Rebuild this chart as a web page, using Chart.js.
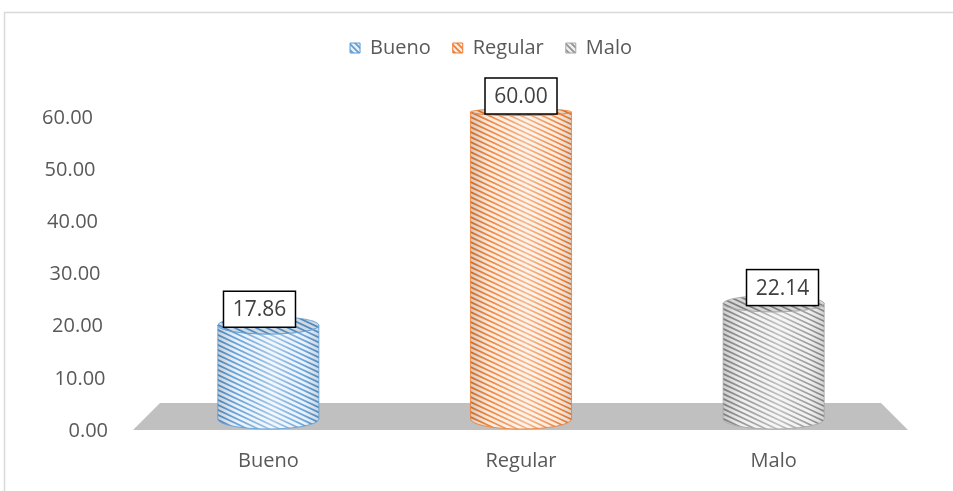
<!DOCTYPE html>
<html>
<head>
<meta charset="utf-8">
<script src="https://cdn.jsdelivr.net/npm/chart.js@4"></script>
<style>
  html, body { margin: 0; padding: 0; background: #fff; }
  canvas { display: block; }
</style>
</head>
<body>
<canvas id="chart" width="953" height="491"></canvas>
<script>
// Chart data
const categories = ['Bueno', 'Regular', 'Malo'];
const values = [17.86, 60.00, 22.14];
const tickValues = [0, 10, 20, 30, 40, 50, 60];

// Series colours (stripe, light tint)
const stripeColors = ['#5b9bd5', '#ed7d31', '#8f8f8f'];
const tintColors = ['#e8f1fb', '#fdeadc', '#efefef'];
const edgeColors = ['#5b9bd5', '#ed7d31', '#a5a5a5'];

const FONT = "'Open Sans', sans-serif";
const textColor = '#595959';

// small hatched square for the legend boxes
function makePattern(i) {
    const c = document.createElement('canvas');
    c.width = 6; c.height = 6;
    const g = c.getContext('2d');
    g.fillStyle = tintColors[i];
    g.fillRect(0, 0, 6, 6);
    g.strokeStyle = stripeColors[i];
    g.lineWidth = 1.6;
    g.beginPath();
    g.moveTo(-1, -1); g.lineTo(7, 7);
    g.moveTo(-4, 2); g.lineTo(4, 10);
    g.moveTo(2, -4); g.lineTo(10, 4);
    g.stroke();
    return g.createPattern(c, 'repeat');
}

function stripes(ctx, left, right, top, bottom, color) {
    const slope = 0.47;
    const gap = 5;
    ctx.strokeStyle = color;
    ctx.lineWidth = 1.7;
    ctx.beginPath();
    const w = right - left;
    for (let y = top - w * slope - gap; y < bottom + gap; y += gap) {
        ctx.moveTo(left - 2, y);
        ctx.lineTo(right + 2, y + (w + 4) * slope);
    }
    ctx.stroke();
}

function bodyPath(ctx, cx, rx, topC, ryT, botC, ryB) {
    ctx.beginPath();
    ctx.moveTo(cx - rx, topC);
    ctx.lineTo(cx - rx, botC);
    ctx.ellipse(cx, botC, rx, ryB, 0, Math.PI, 0, true);
    ctx.lineTo(cx + rx, topC);
    ctx.ellipse(cx, topC, rx, ryT, 0, 0, Math.PI, false);
    ctx.closePath();
}

const cylinderPlugin = {
    id: 'cylinders',
    beforeLayout(chart) {
        // push the plot area down under the legend
        const lg = chart.legend;
        if (lg && !lg._patched) {
            const fit = lg.fit;
            lg.fit = function() {
                fit.call(this);
                this.height = 100;
            };
            lg._patched = true;
        }
    },
    afterLayout(chart) {
        // legend sits a little left of the plot centre
        if (chart.legend) {
            chart.legend.left = 82;
            chart.legend.right = 900;
        }
    },
    beforeDraw(chart) {
        const ctx = chart.ctx;
        ctx.save();
        ctx.fillStyle = '#fff';
        ctx.fillRect(0, 0, chart.width, chart.height);
        // outer chart border
        ctx.strokeStyle = '#d9d9d9';
        ctx.lineWidth = 1.5;
        ctx.beginPath();
        ctx.moveTo(4.5, chart.height);
        ctx.lineTo(4.5, 12.5);
        ctx.lineTo(chart.width, 12.5);
        ctx.stroke();
        ctx.restore();
    },
    beforeDatasetsDraw(chart) {
        const ctx = chart.ctx;
        const a = chart.chartArea;
        const y0 = chart.scales.y.getPixelForValue(0);
        // grey floor
        ctx.save();
        ctx.fillStyle = '#c0c0c0';
        ctx.beginPath();
        ctx.moveTo(a.left - 9, y0 + 1);
        ctx.lineTo(a.left + 18, y0 - 26);
        ctx.lineTo(a.right - 19, y0 - 26);
        ctx.lineTo(a.right + 8, y0 + 1);
        ctx.closePath();
        ctx.fill();
        ctx.restore();
    },
    afterDatasetsDraw(chart) {
        const ctx = chart.ctx;
        const a = chart.chartArea;
        const mid = (a.left + a.right) / 2;
        const meta = chart.getDatasetMeta(0);
        const ryAt = y => 3.5 + (y - a.top) * 0.024;

        meta.data.forEach((bar, i) => {
            const cx = bar.x;
            const rx = bar.width / 2;
            const topC = bar.y - 4 - (bar.y - a.top) * 0.03;
            const ryT = ryAt(bar.y);
            const botC = bar.base - 10;
            const ryB = 10;
            const left = cx - rx, right = cx + rx;
            const h = botC - topC + ryT + ryB;

            // body
            ctx.save();
            bodyPath(ctx, cx, rx, topC, ryT, botC, ryB);
            ctx.clip();
            ctx.fillStyle = tintColors[i];
            ctx.fillRect(left, topC - ryT, rx * 2, h);
            stripes(ctx, left, right, topC - ryT, botC + ryB, stripeColors[i]);
            const g = ctx.createLinearGradient(left, 0, right, 0);
            g.addColorStop(0, 'rgba(0,0,0,0.15)');
            g.addColorStop(0.2, 'rgba(255,255,255,0.1)');
            g.addColorStop(0.55, 'rgba(255,255,255,0.45)');
            g.addColorStop(0.85, 'rgba(255,255,255,0.1)');
            g.addColorStop(1, 'rgba(0,0,0,0.12)');
            ctx.fillStyle = g;
            ctx.fillRect(left, topC - ryT, rx * 2, h);
            ctx.restore();

            ctx.save();
            bodyPath(ctx, cx, rx, topC, ryT, botC, ryB);
            ctx.strokeStyle = edgeColors[i];
            ctx.globalAlpha = 0.8;
            ctx.lineWidth = 1;
            ctx.stroke();
            ctx.restore();

            // top cap
            ctx.save();
            ctx.beginPath();
            ctx.ellipse(cx, topC, rx, ryT, 0, 0, Math.PI * 2);
            ctx.clip();
            ctx.fillStyle = tintColors[i];
            ctx.fillRect(left, topC - ryT, rx * 2, ryT * 2);
            stripes(ctx, left, right, topC - ryT, topC + ryT, stripeColors[i]);
            ctx.fillStyle = 'rgba(0,0,0,0.1)';
            ctx.fillRect(left, topC - ryT, rx * 2, ryT * 2);
            ctx.restore();

            ctx.save();
            ctx.beginPath();
            ctx.ellipse(cx, topC, rx, ryT, 0, 0, Math.PI * 2);
            ctx.strokeStyle = edgeColors[i];
            ctx.globalAlpha = 0.8;
            ctx.lineWidth = 1;
            ctx.stroke();
            ctx.restore();

            // value label in a box
            const lx = cx + (cx - mid) * 0.035;
            const bw = 72, bh = 36;
            const by = topC + 2 - bh;
            ctx.save();
            ctx.fillStyle = '#fff';
            ctx.fillRect(lx - bw / 2, by, bw, bh);
            ctx.strokeStyle = '#000';
            ctx.lineWidth = 1.5;
            ctx.strokeRect(lx - bw / 2, by, bw, bh);
            ctx.fillStyle = '#404040';
            ctx.font = '21px ' + FONT;
            ctx.textAlign = 'center';
            ctx.textBaseline = 'middle';
            ctx.fillText(values[i].toFixed(2), lx, by + bh / 2 + 1);
            ctx.restore();
        });

        // y tick labels, drifting right with the 3D perspective
        const ys = chart.scales.y;
        ctx.save();
        ctx.fillStyle = textColor;
        ctx.font = '20px ' + FONT;
        ctx.textAlign = 'right';
        ctx.textBaseline = 'middle';
        tickValues.forEach(v => {
            const x = 108 - (v / 60) * 15;
            ctx.fillText(v.toFixed(2), x, ys.getPixelForValue(v) + 2);
        });
        ctx.restore();
    }
};

const patterns = categories.map((c, i) => makePattern(i));

new Chart(document.getElementById('chart'), {
    type: 'bar',
    data: {
        labels: categories,
        datasets: [{
            data: values,
            backgroundColor: 'rgba(0,0,0,0)',
            borderWidth: 0,
            categoryPercentage: 1,
            barPercentage: 0.4
        }]
    },
    options: {
        responsive: false,
        animation: false,
        layout: { padding: { top: 16, left: 142, right: 53, bottom: -2 } },
        plugins: {
            tooltip: { enabled: false },
            legend: {
                position: 'top',
                labels: {
                    boxWidth: 10,
                    boxHeight: 10,
                    padding: 22,
                    color: textColor,
                    font: { family: FONT, size: 20 },
                    generateLabels: () => categories.map((c, i) => ({
                        text: c,
                        fillStyle: patterns[i],
                        strokeStyle: edgeColors[i],
                        lineWidth: 1,
                        fontColor: textColor,
                        hidden: false,
                        index: i
                    }))
                }
            }
        },
        scales: {
            x: {
                grid: { display: false, drawTicks: false },
                border: { display: false },
                ticks: {
                    color: textColor,
                    padding: 20,
                    font: { family: FONT, size: 20 }
                }
            },
            y: {
                display: false,
                min: 0,
                max: 60
            }
        }
    },
    plugins: [cylinderPlugin]
});
</script>
</body>
</html>
